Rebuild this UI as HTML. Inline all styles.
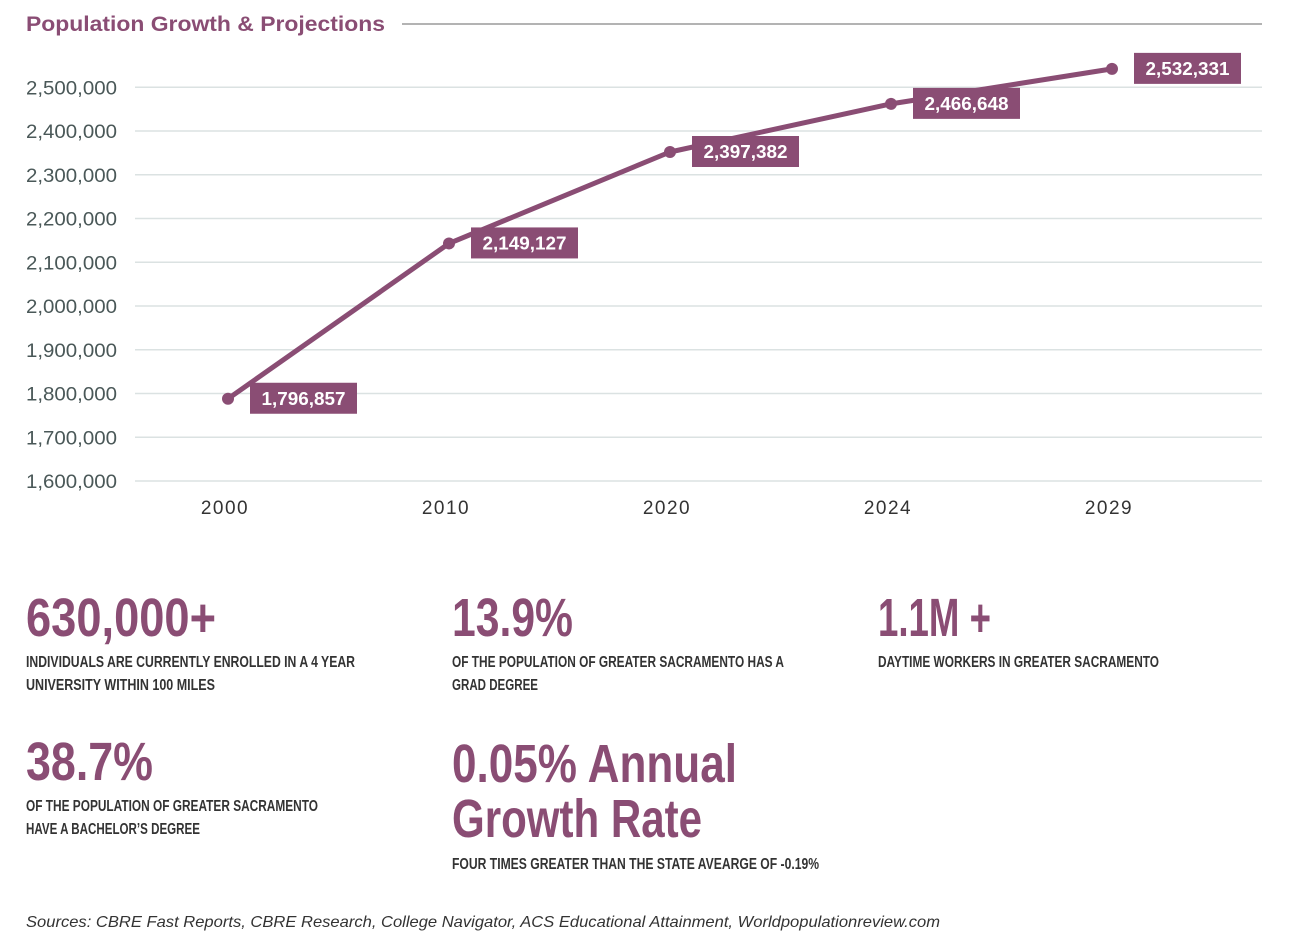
<!DOCTYPE html>
<html><head><meta charset="utf-8"><style>
html,body{margin:0;padding:0;background:#fff;}
svg{display:block;font-family:"Liberation Sans",sans-serif;}
</style></head><body>
<svg id="chart" width="1292" height="942" viewBox="0 0 1292 942">
<text x="26" y="31" font-size="21" font-weight="bold" fill="#8a4d74" textLength="359" lengthAdjust="spacingAndGlyphs">Population Growth &amp; Projections</text>
<line x1="402" y1="24" x2="1262" y2="24" stroke="#9a9a9a" stroke-width="1.5"/>
<g id="grid"></g>
<g id="yaxis"></g>
<g id="xaxis"></g>
<g id="series"></g>

<g fill="#8a4d74" font-weight="bold">
<text x="26" y="636" font-size="54" textLength="190" lengthAdjust="spacingAndGlyphs">630,000+</text>
<text x="452" y="636" font-size="54" textLength="121" lengthAdjust="spacingAndGlyphs">13.9%</text>
<text x="878" y="636" font-size="54" textLength="113" lengthAdjust="spacingAndGlyphs">1.1M +</text>
<text x="26" y="780" font-size="54" textLength="127" lengthAdjust="spacingAndGlyphs">38.7%</text>
<text x="452" y="782" font-size="54" textLength="285" lengthAdjust="spacingAndGlyphs">0.05% Annual</text>
<text x="452" y="837" font-size="54" textLength="250" lengthAdjust="spacingAndGlyphs">Growth Rate</text>
</g>
<g fill="#333" font-weight="bold" font-size="16">
<text x="26" y="667" textLength="329" lengthAdjust="spacingAndGlyphs">INDIVIDUALS ARE CURRENTLY ENROLLED IN A 4 YEAR</text>
<text x="26" y="690" textLength="189" lengthAdjust="spacingAndGlyphs">UNIVERSITY WITHIN 100 MILES</text>
<text x="452" y="667" textLength="332" lengthAdjust="spacingAndGlyphs">OF THE POPULATION OF GREATER SACRAMENTO HAS A</text>
<text x="452" y="690" textLength="86" lengthAdjust="spacingAndGlyphs">GRAD DEGREE</text>
<text x="878" y="667" textLength="281" lengthAdjust="spacingAndGlyphs">DAYTIME WORKERS IN GREATER SACRAMENTO</text>
<text x="26" y="811" textLength="292" lengthAdjust="spacingAndGlyphs">OF THE POPULATION OF GREATER SACRAMENTO</text>
<text x="26" y="834" textLength="174" lengthAdjust="spacingAndGlyphs">HAVE A BACHELOR’S DEGREE</text>
<text x="452" y="869" textLength="367" lengthAdjust="spacingAndGlyphs">FOUR TIMES GREATER THAN THE STATE AVEARGE OF -0.19%</text>
</g>
<text x="26" y="927" font-size="16" font-style="italic" fill="#333" textLength="914" lengthAdjust="spacingAndGlyphs">Sources: CBRE Fast Reports, CBRE Research, College Navigator, ACS Educational Attainment, Worldpopulationreview.com</text>
</svg>
<script>
const categories = ["2000","2010","2020","2024","2029"];
// positions of the plotted points
const plottedValues = [1788000, 2143000, 2352000, 2462000, 2542000];
const valueLabels = ["1,796,857","2,149,127","2,397,382","2,466,648","2,532,331"];
const yTicks = [1600000,1700000,1800000,1900000,2000000,2100000,2200000,2300000,2400000,2500000];
const yTickLabels = ["1,600,000","1,700,000","1,800,000","1,900,000","2,000,000","2,100,000","2,200,000","2,300,000","2,400,000","2,500,000"];

const NS = "http://www.w3.org/2000/svg";
const PURPLE = "#8a4d74";
function yScale(v){ return 481 - (v - 1600000) / 100000 * 43.75; }
function xScale(i){ return 225 + 221 * i; }
function mk(tag, attrs, parent){
  const e = document.createElementNS(NS, tag);
  for (const k in attrs) e.setAttribute(k, attrs[k]);
  parent.appendChild(e);
  return e;
}
const grid = document.getElementById('grid');
const yaxis = document.getElementById('yaxis');
const xaxis = document.getElementById('xaxis');
const series = document.getElementById('series');

yTicks.forEach((t, i) => {
  const y = yScale(t);
  const l = mk('line', {x1:135, x2:1262, y1:y, y2:y, stroke:'#dbe2e2', 'stroke-width':1.5}, grid);
  
  
  const tx = mk('text', {x:26, y:y+7, 'font-size':19, fill:'#4a5858', textLength:91, lengthAdjust:'spacingAndGlyphs'}, yaxis);
  tx.textContent = yTickLabels[i];
  
  
});
categories.forEach((c, i) => {
  const tx = mk('text', {x:xScale(i), y:514, 'font-size':19, fill:'#333', 'text-anchor':'middle', 'letter-spacing':1.5}, xaxis);
  tx.textContent = c;
  
  
});
const pts = plottedValues.map((v, i) => [xScale(i) + 3, yScale(v)]);
const line = mk('polyline', {points: pts.map(p => p.join(',')).join(' '), fill:'none', stroke:PURPLE, 'stroke-width':5, 'stroke-linejoin':'round'}, series);


pts.forEach((p, i) => {
  const c = mk('circle', {cx:p[0], cy:p[1], r:6, fill:PURPLE}, series);
  
  
  const r = mk('rect', {x:p[0]+22, y:p[1]-16, width:107, height:31, fill:PURPLE}, series);
  
  
  const t = mk('text', {x:p[0]+75.5, y:p[1]+6, 'font-size':18, 'font-weight':'bold', fill:'#fff', 'text-anchor':'middle', textLength:84, lengthAdjust:'spacingAndGlyphs'}, series);
  t.textContent = valueLabels[i];
  
  
});
</script>
</body></html>
